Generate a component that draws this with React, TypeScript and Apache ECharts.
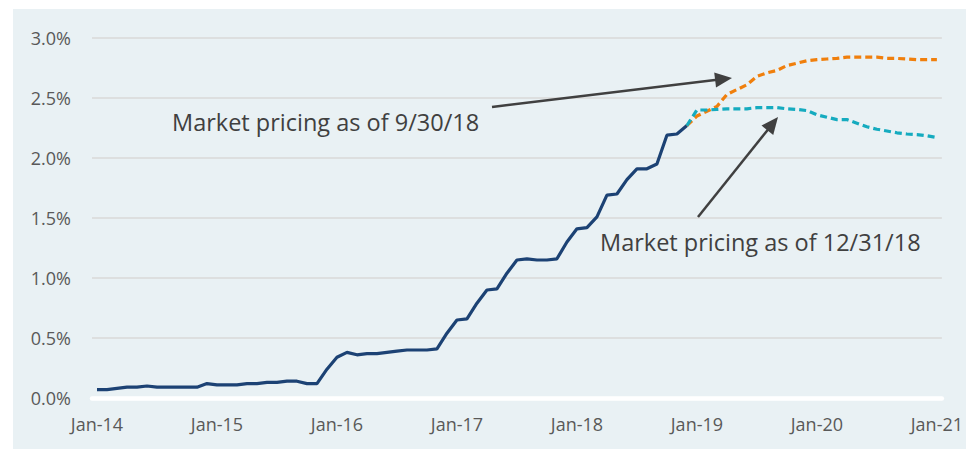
import React, { useEffect, useRef } from "react";
import * as echarts from "echarts";

const MONTHS = ["Jan", "Feb", "Mar", "Apr", "May", "Jun", "Jul", "Aug", "Sep", "Oct", "Nov", "Dec"];
const YEARS = ["14", "15", "16", "17", "18", "19", "20"];
const categories: string[] = [];
YEARS.forEach((y) => MONTHS.forEach((m) => categories.push(`${m}-${y}`)));
categories.push("Jan-21");

// Effective fed funds rate, monthly, Jan-14 .. Dec-18
const actual = [
  0.07, 0.07, 0.08, 0.09, 0.09, 0.10, 0.09, 0.09, 0.09, 0.09, 0.09, 0.12,
  0.11, 0.11, 0.11, 0.12, 0.12, 0.13, 0.13, 0.14, 0.14, 0.12, 0.12, 0.24,
  0.34, 0.38, 0.36, 0.37, 0.37, 0.38, 0.39, 0.40, 0.40, 0.40, 0.41, 0.54,
  0.65, 0.66, 0.79, 0.90, 0.91, 1.04, 1.15, 1.16, 1.15, 1.15, 1.16, 1.30,
  1.41, 1.42, 1.51, 1.69, 1.70, 1.82, 1.91, 1.91, 1.95, 2.19, 2.20, 2.27,
];

// Market pricing, Dec-18 .. Jan-21
const pricing0930 = [
  2.27,
  2.35, 2.39, 2.43, 2.53, 2.57, 2.61, 2.68, 2.71, 2.73, 2.77, 2.79, 2.81,
  2.82, 2.825, 2.83, 2.84, 2.84, 2.84, 2.84, 2.83, 2.83, 2.825, 2.82, 2.82,
  2.82,
];
const pricing1231 = [
  2.27,
  2.40, 2.40, 2.405, 2.41, 2.41, 2.41, 2.42, 2.42, 2.42, 2.41, 2.405, 2.395,
  2.36, 2.34, 2.32, 2.32, 2.29, 2.26, 2.24, 2.225, 2.21, 2.20, 2.195, 2.185,
  2.17,
];

const yTicks = { min: 0, max: 3, interval: 0.5 };

const OX = 13;
const OY = 9;

function arrow(x1: number, y1: number, x2: number, y2: number, color: string) {
  const dx = x2 - x1;
  const dy = y2 - y1;
  const len = Math.sqrt(dx * dx + dy * dy);
  const ux = dx / len;
  const uy = dy / len;
  const nx = -uy;
  const ny = ux;
  const hl = 17;
  const hw = 7.5;
  const bx = x2 - hl * ux;
  const by = y2 - hl * uy;
  return [
    {
      type: "line",
      shape: { x1: x1 - OX, y1: y1 - OY, x2: bx + ux * 2 - OX, y2: by + uy * 2 - OY },
      style: { stroke: color, lineWidth: 2.5 },
      z: 100,
    },
    {
      type: "polygon",
      shape: {
        points: [
          [x2 - OX, y2 - OY],
          [bx + hw * nx - OX, by + hw * ny - OY],
          [bx - hw * nx - OX, by - hw * ny - OY],
        ],
      },
      style: { fill: color },
      z: 100,
    },
  ];
}

export default function App() {
  const ref = useRef<HTMLDivElement>(null);
  useEffect(() => {
    if (!ref.current) return;
    const chart = echarts.init(ref.current, undefined, { renderer: "svg" });
    const pad = (n: number) => new Array(n).fill(null);
    const nProj = categories.length - pricing0930.length;
    chart.setOption({
      animation: false,
      backgroundColor: "#e9f1f4",
      textStyle: { fontFamily: "Open Sans" },
      grid: { left: 79, top: 29, right: 23, bottom: 51, containLabel: false },
      xAxis: {
        type: "category",
        data: categories,
        boundaryGap: true,
        axisLine: { show: true, lineStyle: { color: "#ffffff", width: 4.5 } },
        axisTick: { show: false },
        axisLabel: {
          interval: 11,
          color: "#595959",
          fontSize: 18,
          fontFamily: "Open Sans",
          margin: 17,
        },
        splitLine: { show: false },
      },
      yAxis: {
        type: "value",
        min: yTicks.min,
        max: yTicks.max,
        interval: yTicks.interval,
        axisLine: { show: false },
        axisTick: { show: false },
        axisLabel: {
          color: "#595959",
          fontSize: 18,
          fontFamily: "Open Sans",
          margin: 21,
          formatter: (v: number) => v.toFixed(1) + "%",
        },
        splitLine: { show: true, lineStyle: { color: "#d9d9d9", width: 1.5 } },
      },
      series: [
        {
          name: "Actual",
          type: "line",
          data: actual.concat(pad(categories.length - actual.length)),
          showSymbol: false,
          lineStyle: { color: "#1c4274", width: 3.2 },
          z: 3,
        },
        {
          name: "Market pricing as of 9/30/18",
          type: "line",
          data: pad(nProj).concat(pricing0930),
          showSymbol: false,
          lineStyle: { color: "#f07f0c", width: 3.2, type: [7, 4] },
          z: 4,
        },
        {
          name: "Market pricing as of 12/31/18",
          type: "line",
          data: pad(nProj).concat(pricing1231),
          showSymbol: false,
          lineStyle: { color: "#15abbf", width: 3.2, type: [7, 4] },
          z: 4,
        },
      ],
      graphic: [
        ...arrow(492, 107, 732, 78, "#404040"),
        ...arrow(698, 217, 778, 117, "#404040"),
        {
          type: "text",
          x: 172 - OX,
          y: 121.5 - OY,
          z: 100,
          style: {
            text: "Market pricing as of 9/30/18",
            fill: "#404040",
            font: "23.5px 'Open Sans'",
            verticalAlign: "middle",
            align: "left",
          },
        },
        {
          type: "text",
          x: 600 - OX,
          y: 241.5 - OY,
          z: 100,
          style: {
            text: "Market pricing as of 12/31/18",
            fill: "#404040",
            font: "23.5px 'Open Sans'",
            verticalAlign: "middle",
            align: "left",
          },
        },
      ],
    });
    return () => chart.dispose();
  }, []);
  return (
    <div style={{ position: "fixed", left: 0, top: 0, width: 966, height: 449, background: "#ffffff" }}>
      <div ref={ref} style={{ position: "absolute", left: OX, top: OY, width: 966 - OX, height: 449 - OY }} />
    </div>
  );
}
